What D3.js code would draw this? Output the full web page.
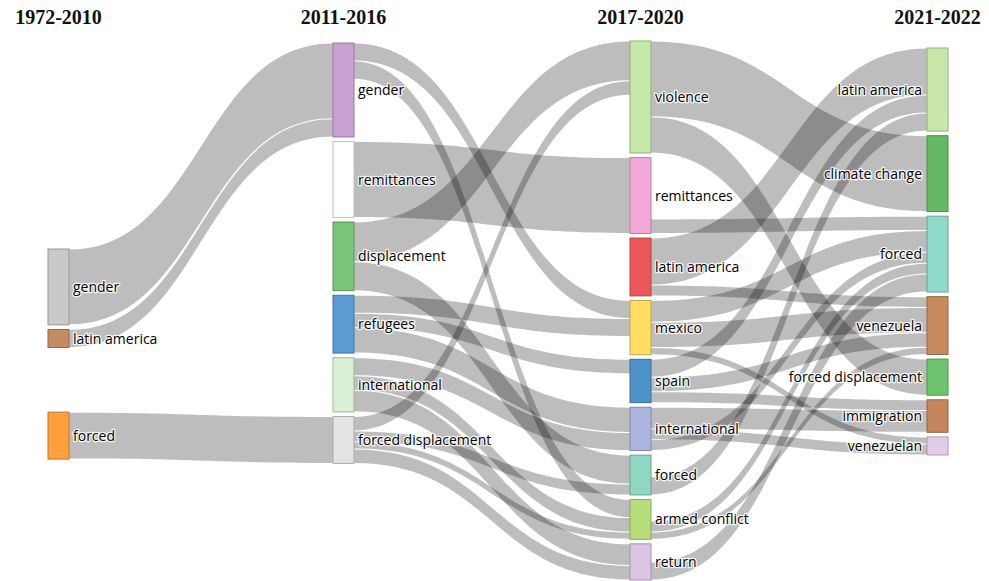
<!DOCTYPE html>
<html>
<head>
<meta charset="utf-8">
<script src="https://cdn.jsdelivr.net/npm/d3@7"></script>
<style>
  html, body { margin: 0; padding: 0; background: #fff; }
  svg { display: block; }
</style>
</head>
<body>
<svg id="chart" width="989" height="581"></svg>
<script>
// ---------------- DATA ----------------
const periods = ["1972-2010", "2011-2016", "2017-2020", "2021-2022"];

const nodes1972 = ["gender", "latin america", "forced"];
const nodes2011 = ["gender", "remittances", "displacement", "refugees", "international", "forced displacement"];
const nodes2017 = ["violence", "remittances", "latin america", "mexico", "spain", "international", "forced", "armed conflict", "return"];
const nodes2021 = ["latin america", "climate change", "forced", "venezuela", "forced displacement", "immigration", "venezuelan"];

// [source keyword, target keyword, value]
const links1972to2011 = [
  ["gender", "gender", 21],
  ["latin america", "gender", 5],
  ["forced", "forced displacement", 13]
];
const links2011to2017 = [
  ["gender", "mexico", 5],
  ["gender", "armed conflict", 5],
  ["remittances", "remittances", 21],
  ["displacement", "violence", 11],
  ["displacement", "forced", 8],
  ["refugees", "mexico", 5],
  ["refugees", "spain", 4],
  ["refugees", "international", 7],
  ["international", "international", 5],
  ["international", "armed conflict", 4],
  ["international", "return", 6],
  ["forced displacement", "violence", 4],
  ["forced displacement", "forced", 3],
  ["forced displacement", "armed conflict", 2],
  ["forced displacement", "return", 4]
];
const links2017to2021 = [
  ["violence", "climate change", 21],
  ["violence", "forced displacement", 10],
  ["remittances", "forced", 4],
  ["latin america", "latin america", 13],
  ["latin america", "venezuela", 3],
  ["mexico", "forced", 6],
  ["mexico", "venezuela", 7],
  ["mexico", "venezuelan", 2],
  ["spain", "latin america", 5],
  ["spain", "venezuela", 4],
  ["spain", "immigration", 3],
  ["international", "immigration", 6],
  ["international", "venezuelan", 3],
  ["international", "forced", 3],
  ["forced", "latin america", 5],
  ["armed conflict", "forced", 3],
  ["armed conflict", "venezuela", 2],
  ["return", "forced", 5]
];

// ---------------- STYLE / LAYOUT CONFIG ----------------
const nodeColors = [
  ["#c9c9c9", "#c78b64", "#ffa03d"],
  ["#caa1d3", "#ffffff", "#79c67a", "#5a9bd1", "#daf0d4", "#e3e3e3"],
  ["#c6e8a9", "#f3a9d7", "#ec5858", "#ffdf62", "#4f94c9", "#abb5e0", "#8fd7c3", "#b6df7b", "#dcc5e4"],
  ["#c7e8a9", "#65b965", "#8fd9c8", "#c98a5e", "#6dc46d", "#c4865a", "#e3cce9"]
];
const columnX = [48, 333, 630, 927];       // left edge of each column of nodes
const columnTop = [249, 43, 41, 48];       // top of first node in each column
const extraGapBefore = { "0|forced": 60 }; // extra spacing inside first column
const outAlignBottom = new Set(["2|remittances", "2|forced", "2|armed conflict", "2|return"]);
const outKeepListOrder = new Set(["2|international"]);
const nodeWidth = 21;
const nodePadding = 4.6;
const plotBottom = 580;

// ---------------- BUILD GRAPH ----------------
const columns = [nodes1972, nodes2011, nodes2017, nodes2021];
const stages = [links1972to2011, links2011to2017, links2017to2021];

const nodes = [];
const nodeMap = new Map();
columns.forEach((col, ci) => {
  col.forEach((name, i) => {
    const n = { key: ci + "|" + name, name, col: ci, index: i, color: nodeColors[ci][i], inLinks: [], outLinks: [] };
    nodes.push(n);
    nodeMap.set(n.key, n);
  });
});
const links = [];
stages.forEach((st, si) => {
  st.forEach(([s, t, v], order) => {
    const l = { source: nodeMap.get(si + "|" + s), target: nodeMap.get((si + 1) + "|" + t), value: v, order };
    l.source.outLinks.push(l);
    l.target.inLinks.push(l);
    links.push(l);
  });
});
nodes.forEach(n => {
  n.inValue = d3.sum(n.inLinks, l => l.value);
  n.outValue = d3.sum(n.outLinks, l => l.value);
  n.value = Math.max(n.inValue, n.outValue);
});

// value -> pixel scale, fitted on the fullest column
const kCandidates = columns.map((col, ci) => {
  const tot = d3.sum(nodes.filter(n => n.col === ci), n => n.value);
  const avail = plotBottom - columnTop[ci] - (col.length - 1) * nodePadding
    - d3.sum(col, nm => extraGapBefore[ci + "|" + nm] || 0);
  return avail / tot;
});
const y = d3.scaleLinear().domain([0, 1]).range([0, d3.min(kCandidates)]);
const x = d3.scaleOrdinal().domain(periods).range(columnX);

columns.forEach((col, ci) => {
  let cur = columnTop[ci];
  col.forEach(name => {
    const n = nodeMap.get(ci + "|" + name);
    cur += extraGapBefore[n.key] || 0;
    n.x0 = x(periods[ci]);
    n.x1 = n.x0 + nodeWidth;
    n.y0 = cur;
    n.y1 = cur + y(n.value);
    cur = n.y1 + nodePadding;
  });
});

// stack links at nodes
nodes.forEach(n => {
  if (outKeepListOrder.has(n.key)) n.outLinks.sort((a, b) => a.order - b.order);
  else n.outLinks.sort((a, b) => a.target.y0 - b.target.y0);
  n.inLinks.sort((a, b) => a.source.y0 - b.source.y0);
  let c = outAlignBottom.has(n.key) ? n.y1 - y(n.outValue) : n.y0;
  n.outLinks.forEach(l => { l.sy = c; l.w = y(l.value); c += l.w; });
  c = n.y0;
  n.inLinks.forEach(l => { l.ty = c; c += y(l.value); });
});

// ---------------- DRAW ----------------
const svg = d3.select("#chart");

const inset = 0.5;
function linkPath(l) {
  const x0 = l.source.x1, x1 = l.target.x0, xm = (x0 + x1) / 2;
  const s0 = l.sy + inset, s1 = l.sy + l.w - inset;
  const t0 = l.ty + inset, t1 = l.ty + l.w - inset;
  return `M${x0},${s0}C${xm},${s0} ${xm},${t0} ${x1},${t0}` +
         `L${x1},${t1}C${xm},${t1} ${xm},${s1} ${x0},${s1}Z`;
}

svg.append("g")
  .selectAll("path")
  .data(links)
  .join("path")
  .attr("d", linkPath)
  .attr("fill", "rgba(0,0,0,0.26)");

svg.append("g")
  .selectAll("rect")
  .data(nodes)
  .join("rect")
  .attr("x", d => d.x0)
  .attr("y", d => d.y0)
  .attr("width", d => d.x1 - d.x0)
  .attr("height", d => d.y1 - d.y0)
  .attr("fill", d => d.color)
  .attr("stroke", d => d3.color(d.color).darker(0.8))
  .attr("stroke-width", 1);

const lastCol = columns.length - 1;
svg.append("g")
  .selectAll("text")
  .data(nodes)
  .join("text")
  .attr("x", d => d.col === lastCol ? d.x0 - 5 : d.x1 + 4)
  .attr("y", d => (d.y0 + d.y1) / 2)
  .attr("dy", "0.36em")
  .attr("text-anchor", d => d.col === lastCol ? "end" : "start")
  .attr("font-family", "'Open Sans', 'DejaVu Sans', sans-serif")
  .attr("font-size", 14)
  .attr("fill", "#000")
  .attr("stroke", "rgba(255,255,255,0.85)")
  .attr("stroke-width", 2.6)
  .attr("stroke-linejoin", "round")
  .attr("paint-order", "stroke")
  .text(d => d.name);

// column titles
const titles = svg.append("g")
  .selectAll("text")
  .data(periods)
  .join("text")
  .attr("y", 24)
  .attr("font-family", "'Liberation Serif', 'Times New Roman', serif")
  .attr("font-weight", "bold")
  .attr("font-size", 20)
  .attr("fill", "#111")
  .attr("text-anchor", "middle")
  .text(d => d);
titles.each(function(d) {
  const w = this.getComputedTextLength();
  const cx = x(d) + nodeWidth / 2;
  d3.select(this).attr("x", Math.max(cx, 8 + w / 2));
});
</script>
</body>
</html>
